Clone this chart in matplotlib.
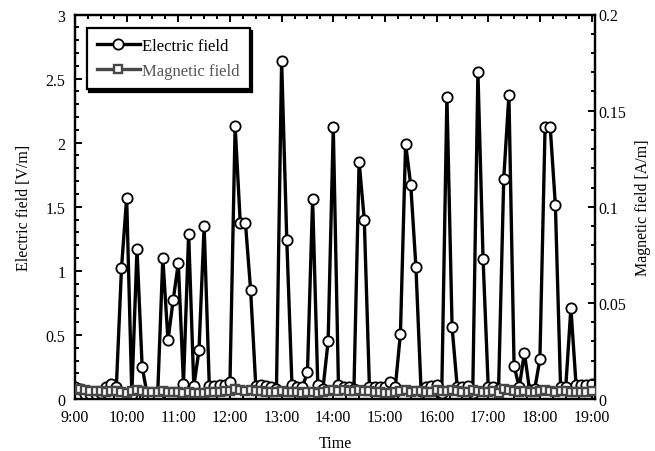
import numpy as np
import matplotlib
matplotlib.use("Agg")
import matplotlib.pyplot as plt
from matplotlib.ticker import MultipleLocator, FuncFormatter

# ---- data (6-minute samples from 9:00 to 19:00) ----
minutes = np.arange(0, 601, 6)  # minutes after 9:00

electric = [0.09, 0.08, 0.04, 0.04, 0.04, 0.05, 0.09, 0.12, 0.09, 1.02,
            1.57, 0.04, 1.17, 0.25, 0.03, 0.03, 0.03, 1.10, 0.46, 0.77,
            1.06, 0.12, 1.29, 0.10, 0.38, 1.35, 0.10, 0.10, 0.11, 0.11,
            0.13, 2.13, 1.37, 1.37, 0.85, 0.10, 0.11, 0.10, 0.09, 0.08,
            2.64, 1.24, 0.11, 0.09, 0.09, 0.21, 1.56, 0.11, 0.08, 0.45,
            2.12, 0.11, 0.09, 0.09, 0.08, 1.85, 1.40, 0.09, 0.09, 0.09,
            0.09, 0.13, 0.09, 0.51, 1.99, 1.67, 1.03, 0.06, 0.09, 0.10,
            0.11, 0.05, 2.36, 0.56, 0.09, 0.09, 0.10, 0.05, 2.55, 1.09,
            0.09, 0.09, 0.08, 1.72, 2.37, 0.26, 0.09, 0.36, 0.07, 0.08,
            0.31, 2.12, 2.12, 1.51, 0.09, 0.09, 0.71, 0.11, 0.11, 0.11,
            0.12]

magnetic = [0.0048, 0.0050, 0.0046, 0.0044, 0.0040, 0.0042, 0.0038, 0.0040, 0.0042, 0.0036,
            0.0030, 0.0044, 0.0046, 0.0040, 0.0038, 0.0036, 0.0038, 0.0040, 0.0036, 0.0034,
            0.0034, 0.0032, 0.0034, 0.0030, 0.0030, 0.0032, 0.0034, 0.0036, 0.0038, 0.0040,
            0.0042, 0.0050, 0.0048, 0.0044, 0.0046, 0.0042, 0.0040, 0.0038, 0.0036, 0.0038,
            0.0040, 0.0038, 0.0036, 0.0034, 0.0032, 0.0036, 0.0034, 0.0032, 0.0034, 0.0040,
            0.0048, 0.0044, 0.0046, 0.0040, 0.0042, 0.0048, 0.0044, 0.0040, 0.0036, 0.0038,
            0.0032, 0.0030, 0.0034, 0.0040, 0.0046, 0.0036, 0.0040, 0.0042, 0.0036, 0.0038,
            0.0048, 0.0040, 0.0044, 0.0046, 0.0040, 0.0034, 0.0036, 0.0048, 0.0042, 0.0038,
            0.0036, 0.0040, 0.0030, 0.0052, 0.0046, 0.0040, 0.0036, 0.0044, 0.0034, 0.0038,
            0.0042, 0.0046, 0.0040, 0.0036, 0.0044, 0.0040, 0.0038, 0.0036, 0.0036, 0.0038,
            0.0040]

xtick_labels = ["9:00", "10:00", "11:00", "12:00", "13:00", "14:00",
                "15:00", "16:00", "17:00", "18:00", "19:00"]

# ---- style ----
plt.rcParams['font.family'] = ['Liberation Serif', 'DejaVu Serif']
plt.rcParams['font.size'] = 11.5
mag_color = '#474747'

fig = plt.figure(figsize=(6.55, 4.52), dpi=100)
ax1 = fig.add_axes([75/655, 52/452, 520/655, 384.5/452])
ax2 = ax1.twinx()

l1, = ax1.plot(minutes, electric, color='black', lw=2.4, marker='o', ms=7.4,
               mfc='white', mec='black', mew=1.3, label='Electric field', zorder=3)
l2, = ax2.plot(minutes, magnetic, color=mag_color, lw=2.4, marker='s', ms=6.0,
               mfc='white', mec=mag_color, mew=1.7, label='Magnetic field', zorder=3)

ax1.set_xlim(0, 604)
ax1.set_ylim(0, 3)
ax2.set_ylim(0, 0.2)

ax1.set_xticks(np.arange(0, 601, 60))
ax1.set_xticklabels(xtick_labels)
ax1.xaxis.set_minor_locator(MultipleLocator(15))
ax1.yaxis.set_major_locator(MultipleLocator(0.5))
ax1.yaxis.set_minor_locator(MultipleLocator(0.1))
ax2.yaxis.set_major_locator(MultipleLocator(0.05))
ax2.yaxis.set_minor_locator(MultipleLocator(0.01))
fmt = FuncFormatter(lambda v, p: ('%g' % round(v, 4)))
ax1.yaxis.set_major_formatter(fmt)
ax2.yaxis.set_major_formatter(fmt)

ax1.tick_params(axis='x', which='both', direction='in', top=True, bottom=True,
                width=1.4, pad=7.5)
ax1.tick_params(axis='y', which='both', direction='in', left=True, right=False,
                width=1.4, pad=7)
ax2.tick_params(axis='y', which='both', direction='in', right=True, left=False,
                width=1.4, pad=2.5)
for ax in (ax1, ax2):
    ax.tick_params(which='major', length=5)
    ax.tick_params(which='minor', length=3)
    for s in ax.spines.values():
        s.set_linewidth(1.6)

ax1.set_xlabel('Time', labelpad=7)
ax1.set_ylabel('Electric field [V/m]', labelpad=10)
ax2.set_ylabel('Magnetic field [A/m]', labelpad=6)

leg = ax2.legend([l1, l2], ['Electric field', 'Magnetic field'],
                 loc='upper left', bbox_to_anchor=(0.0225, 0.965),
                 borderaxespad=0, fancybox=False, edgecolor='black',
                 framealpha=1, fontsize=12, handlelength=2.6,
                 handletextpad=0.12, labelspacing=0.55, borderpad=0.6,
                 shadow={'color': 'black', 'alpha': 1})
leg.get_frame().set_linewidth(1.6)
leg.get_texts()[1].set_color('#555555')
leg.set_zorder(10)

fig.savefig('out.png', dpi=100)
